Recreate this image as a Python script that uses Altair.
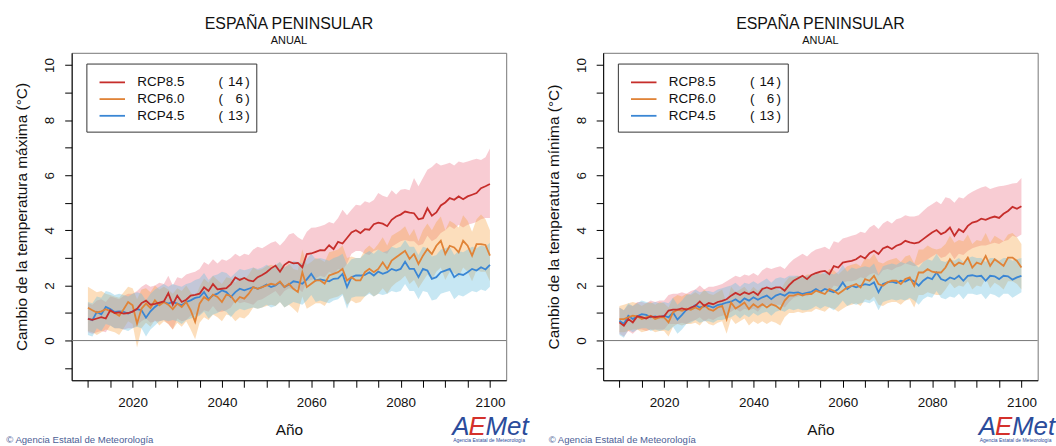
import altair as alt
import pandas as pd

YEARS = list(range(2010, 2101))
SCENARIOS = ["RCP8.5", "RCP6.0", "RCP4.5"]
N_MODELS = [14, 6, 13]
LINE_COLORS = ["#C62E2B", "#E08337", "#3A86D4"]
BAND_COLORS = ["#E8576E", "#F5A040", "#6CC0E0"]
BAND_OPACITY = [0.30, 0.35, 0.38]

# ---------------- Temperatura maxima (left panel) ----------------
TX_85_MEAN = [
    0.79, 0.75, 0.80, 0.85, 0.80, 1.10, 1.00, 1.02, 0.98, 1.00,
    1.05, 1.15, 1.36, 1.45, 1.30, 1.33, 1.38, 1.42, 1.72, 1.30,
    1.63, 1.40, 1.48, 1.63, 1.66, 1.70, 1.93, 1.80, 2.05, 1.86,
    1.88, 1.90, 2.05, 2.29, 2.20, 2.27, 2.18, 2.15, 2.30, 2.38,
    2.48, 2.62, 2.72, 2.50, 2.75, 2.86, 2.80, 2.82, 2.66, 3.14,
    3.16, 3.22, 3.28, 3.27, 3.46, 3.32, 3.58, 3.52, 3.72, 3.92,
    4.00, 3.90, 4.04, 4.02, 4.22, 4.28, 4.24, 4.15, 4.38, 4.50,
    4.57, 4.68, 4.64, 4.62, 4.40, 4.44, 4.80, 4.53, 4.65, 4.90,
    5.01, 5.17, 5.11, 5.23, 5.13, 5.23, 5.29, 5.35, 5.53, 5.60,
    5.68]
TX_85_HI = [
    1.35, 1.30, 1.45, 1.50, 1.40, 1.60, 1.55, 1.50, 1.62, 1.70,
    1.70, 1.80, 1.95, 2.05, 1.95, 2.00, 2.10, 2.05, 2.35, 2.00,
    2.30, 2.25, 2.40, 2.45, 2.50, 2.60, 2.85, 2.75, 2.95, 2.80,
    2.95, 2.90, 3.00, 3.15, 3.05, 3.15, 3.10, 3.30, 3.40, 3.35,
    3.45, 3.55, 3.60, 3.45, 3.62, 3.85, 3.90, 3.75, 3.65, 3.95,
    4.09, 4.10, 4.15, 4.20, 4.30, 4.25, 4.45, 4.75, 4.55, 4.75,
    4.93, 4.90, 5.05, 5.00, 5.10, 5.35, 5.25, 5.20, 5.45, 5.30,
    5.47, 5.50, 5.45, 5.90, 5.60, 5.90, 6.20, 6.30, 6.45, 6.35,
    6.40, 6.45, 6.35, 6.50, 6.45, 6.50, 6.55, 6.60, 6.55, 6.65,
    6.97]
TX_85_LO = [
    0.30, 0.25, 0.30, 0.35, 0.30, 0.55, 0.45, 0.45, 0.40, 0.45,
    0.45, 0.55, 0.70, 0.80, 0.65, 0.70, 0.70, 0.75, 0.60, 0.40,
    0.80, 0.70, 0.75, 0.90, 0.95, 0.95, 1.10, 1.05, 1.25, 1.05,
    1.05, 1.10, 1.20, 1.45, 1.35, 1.40, 1.35, 1.30, 1.45, 1.50,
    1.60, 1.70, 1.80, 1.60, 1.80, 1.90, 1.85, 1.90, 1.75, 2.15,
    2.20, 2.25, 2.35, 2.30, 2.50, 2.40, 2.60, 2.55, 2.80, 3.15,
    3.25, 3.25, 3.15, 3.10, 3.25, 3.30, 3.20, 3.15, 3.40, 3.50,
    3.60, 3.65, 3.60, 3.60, 3.45, 3.50, 3.80, 3.60, 3.70, 3.90,
    4.00, 4.15, 4.05, 4.20, 4.10, 4.20, 4.25, 4.30, 4.40, 4.45,
    4.45]
TX_60_MEAN = [
    1.19, 1.10, 1.02, 1.06, 1.14, 1.07, 1.00, 0.90, 1.14, 1.40,
    1.28, 0.62, 1.16, 1.34, 1.18, 1.46, 1.28, 1.40, 1.30, 1.14,
    1.34, 1.22, 1.40, 1.10, 0.68, 1.34, 1.58, 1.46, 1.67, 1.58,
    1.40, 1.67, 1.62, 1.40, 1.58, 1.52, 1.70, 1.94, 1.88, 1.94,
    2.00, 2.06, 2.02, 2.14, 1.94, 2.06, 1.88, 1.76, 2.48, 1.94,
    2.06, 2.18, 2.18, 2.06, 2.36, 2.42, 2.48, 2.60, 2.18, 2.30,
    2.18, 2.18, 2.48, 2.60, 2.48, 2.60, 2.84, 2.60, 2.90, 3.02,
    3.14, 3.26, 2.96, 3.14, 2.78, 3.08, 3.32, 3.14, 3.44, 3.62,
    3.14, 3.44, 3.38, 3.20, 3.62, 3.44, 3.08, 3.50, 3.50, 3.47,
    3.08]
TX_60_HI = [
    1.95, 1.85, 1.75, 1.80, 1.70, 1.65, 1.60, 1.55, 1.75, 1.95,
    1.90, 1.50, 1.85, 1.90, 1.75, 2.00, 1.85, 1.95, 1.85, 1.70,
    1.90, 1.80, 2.00, 1.75, 1.55, 1.95, 2.25, 2.10, 2.35, 2.20,
    2.05, 2.30, 2.25, 2.10, 2.30, 2.20, 2.40, 2.65, 2.55, 2.60,
    2.70, 2.75, 2.70, 2.85, 2.65, 2.80, 2.60, 2.55, 3.30, 2.75,
    2.85, 3.00, 2.95, 2.85, 3.20, 3.25, 3.30, 3.45, 3.00, 3.05,
    3.00, 3.00, 3.30, 3.45, 3.30, 3.50, 3.75, 3.45, 3.80, 3.90,
    4.00, 4.15, 3.80, 4.05, 3.60, 4.00, 4.25, 4.00, 4.30, 4.50,
    4.00, 4.35, 4.25, 4.10, 4.55, 4.35, 3.95, 4.40, 4.57, 4.40,
    4.00]
TX_60_LO = [
    0.35, 0.30, 0.20, 0.30, 0.40, 0.35, 0.30, 0.20, 0.45, 0.70,
    0.60, -0.25, 0.45, 0.65, 0.50, 0.75, 0.55, 0.70, 0.60, 0.40,
    0.65, 0.50, 0.70, 0.40, 0.05, 0.65, 0.85, 0.75, 0.95, 0.85,
    0.70, 0.95, 0.90, 0.70, 0.85, 0.80, 0.95, 1.20, 1.15, 1.20,
    1.25, 1.30, 1.25, 1.40, 1.20, 1.30, 1.15, 1.00, 1.60, 1.15,
    1.25, 1.35, 1.35, 1.25, 1.50, 1.55, 1.60, 1.70, 1.30, 1.45,
    1.35, 1.40, 1.60, 1.75, 1.60, 1.70, 1.90, 1.70, 1.95, 2.10,
    2.20, 2.35, 2.05, 2.20, 1.90, 2.15, 2.40, 2.20, 2.50, 2.65,
    2.20, 2.50, 2.45, 2.30, 2.65, 2.50, 2.15, 2.55, 2.50, 2.50,
    2.15]
TX_45_MEAN = [
    0.80, 0.74, 1.04, 0.95, 1.22, 1.14, 1.04, 1.06, 1.04, 0.98,
    1.06, 1.14, 1.10, 0.83, 1.06, 1.22, 1.34, 1.40, 1.34, 1.40,
    1.34, 1.28, 1.40, 1.46, 1.55, 1.58, 1.76, 1.50, 1.64, 1.70,
    1.82, 1.76, 1.58, 1.76, 1.88, 1.82, 1.88, 1.94, 1.88, 1.94,
    2.03, 1.94, 2.00, 2.12, 1.94, 2.03, 2.15, 2.12, 2.06, 2.22,
    2.42, 2.18, 2.22, 2.18, 2.15, 2.24, 2.26, 2.42, 1.94, 2.30,
    2.36, 2.36, 2.38, 2.48, 2.36, 2.50, 2.42, 2.48, 2.60, 2.54,
    2.60, 2.86, 2.60, 2.60, 2.30, 2.60, 2.54, 2.24, 2.30, 2.48,
    2.54, 2.60, 2.30, 2.42, 2.38, 2.48, 2.60, 2.54, 2.66, 2.58,
    2.75]
TX_45_HI = [
    1.40, 1.35, 1.60, 1.55, 1.80, 1.75, 1.65, 1.70, 1.65, 1.60,
    1.70, 1.75, 1.70, 1.45, 1.70, 1.85, 1.95, 2.05, 1.95, 2.05,
    2.00, 1.95, 2.05, 2.10, 2.20, 2.25, 2.45, 2.20, 2.35, 2.40,
    2.50, 2.45, 2.30, 2.45, 2.60, 2.55, 2.60, 2.65, 2.60, 2.65,
    2.75, 2.65, 2.75, 2.85, 2.65, 2.75, 2.90, 2.85, 2.80, 2.95,
    3.15, 2.95, 3.00, 2.95, 2.90, 3.00, 3.05, 3.15, 2.75, 2.95,
    3.00, 3.00, 3.15, 3.25, 3.15, 3.30, 3.20, 3.25, 3.40, 3.35,
    3.40, 3.65, 3.40, 3.40, 3.10, 3.40, 3.35, 3.05, 3.10, 3.30,
    3.35, 3.40, 3.10, 3.25, 3.20, 3.30, 3.40, 3.35, 3.45, 3.40,
    3.55]
TX_45_LO = [
    0.20, 0.15, 0.45, 0.35, 0.60, 0.55, 0.45, 0.45, 0.40, 0.35,
    0.45, 0.50, 0.45, 0.15, 0.40, 0.55, 0.70, 0.75, 0.70, 0.75,
    0.70, 0.60, 0.75, 0.80, 0.85, 0.90, 1.05, 0.80, 0.95, 1.00,
    1.10, 1.05, 0.85, 1.05, 1.15, 1.10, 1.15, 1.20, 1.15, 1.20,
    1.30, 1.20, 1.25, 1.40, 1.20, 1.30, 1.40, 1.35, 1.30, 1.45,
    1.65, 1.40, 1.45, 1.40, 1.35, 1.45, 1.50, 1.65, 1.15, 1.55,
    1.60, 1.60, 1.60, 1.70, 1.60, 1.70, 1.65, 1.70, 1.80, 1.75,
    1.80, 2.05, 1.80, 1.80, 1.50, 1.80, 1.75, 1.45, 1.50, 1.70,
    1.75, 1.80, 1.50, 1.65, 1.60, 1.70, 1.80, 1.75, 1.85, 1.80,
    1.95]

# ---------------- Temperatura minima (right panel) ----------------
TN_85_MEAN = [
    0.66, 0.54, 0.78, 0.66, 0.88, 0.85, 0.80, 0.88, 0.85, 0.88,
    0.88, 1.09, 1.12, 1.12, 1.17, 1.12, 1.20, 1.26, 1.42, 1.26,
    1.36, 1.32, 1.40, 1.44, 1.50, 1.63, 1.73, 1.65, 1.75, 1.69,
    1.77, 1.65, 1.87, 1.93, 1.87, 1.93, 1.93, 1.81, 2.01, 2.17,
    2.26, 2.35, 2.23, 2.38, 2.45, 2.50, 2.53, 2.41, 2.70, 2.65,
    2.83, 2.86, 2.89, 2.95, 3.07, 2.98, 3.17, 3.26, 3.14, 3.34,
    3.41, 3.32, 3.44, 3.50, 3.62, 3.56, 3.53, 3.56, 3.68, 3.80,
    3.92, 4.01, 3.86, 3.94, 4.10, 3.80, 4.04, 3.94, 4.16, 4.28,
    4.32, 4.42, 4.38, 4.45, 4.50, 4.45, 4.60, 4.70, 4.85, 4.78,
    4.87]
TN_85_HI = [
    1.20, 1.10, 1.30, 1.25, 1.40, 1.40, 1.35, 1.45, 1.40, 1.45,
    1.45, 1.65, 1.70, 1.70, 1.75, 1.70, 1.80, 1.85, 2.00, 1.85,
    1.95, 1.95, 2.00, 2.05, 2.15, 2.25, 2.35, 2.30, 2.40, 2.35,
    2.45, 2.35, 2.55, 2.65, 2.60, 2.65, 2.70, 2.60, 2.80, 2.95,
    3.05, 3.15, 3.05, 3.20, 3.30, 3.35, 3.40, 3.30, 3.60, 3.55,
    3.70, 3.75, 3.80, 3.85, 3.95, 3.90, 4.10, 4.20, 4.05, 4.25,
    4.35, 4.25, 4.40, 4.45, 4.55, 4.50, 4.50, 4.55, 4.70, 4.85,
    4.95, 5.05, 4.95, 5.20, 5.15, 5.00, 5.20, 5.15, 5.30, 5.40,
    5.48, 5.55, 5.60, 5.50, 5.55, 5.60, 5.62, 5.65, 5.70, 5.72,
    5.90]
TN_85_LO = [
    0.25, 0.15, 0.35, 0.25, 0.40, 0.40, 0.35, 0.40, 0.40, 0.40,
    0.40, 0.60, 0.60, 0.60, 0.65, 0.60, 0.70, 0.75, 0.85, 0.70,
    0.80, 0.75, 0.85, 0.90, 0.95, 1.05, 1.15, 1.05, 1.15, 1.10,
    1.15, 1.05, 1.25, 1.30, 1.25, 1.30, 1.30, 1.20, 1.40, 1.55,
    1.60, 1.70, 1.60, 1.70, 1.80, 1.85, 1.85, 1.75, 2.00, 1.95,
    2.10, 2.15, 2.15, 2.20, 2.30, 2.25, 2.40, 2.45, 2.35, 2.55,
    2.60, 2.55, 2.65, 2.70, 2.80, 2.75, 2.70, 2.75, 2.85, 2.95,
    3.05, 3.15, 3.00, 3.05, 3.20, 2.95, 3.15, 3.10, 3.25, 3.35,
    3.40, 3.45, 3.45, 3.50, 3.55, 3.50, 3.60, 3.65, 3.80, 3.75,
    3.85]
TN_60_MEAN = [
    0.78, 0.78, 0.84, 0.90, 0.88, 0.78, 0.84, 0.90, 0.78, 0.84,
    0.84, 0.66, 1.02, 1.12, 1.08, 1.16, 1.12, 1.20, 1.12, 1.29,
    1.14, 1.08, 1.20, 1.26, 0.78, 1.38, 1.16, 1.26, 1.38, 1.14,
    1.32, 1.20, 1.32, 1.20, 1.32, 1.26, 1.14, 1.45, 1.63, 1.63,
    1.69, 1.63, 1.69, 1.69, 1.81, 1.75, 1.69, 1.87, 1.81, 1.69,
    1.81, 1.93, 1.99, 2.05, 1.93, 2.23, 2.17, 2.35, 2.05, 1.99,
    2.11, 2.17, 2.17, 2.05, 2.23, 2.29, 1.99, 2.47, 2.47, 2.59,
    2.50, 2.47, 2.47, 2.65, 2.95, 2.71, 2.83, 2.77, 3.01, 2.65,
    2.83, 2.77, 3.07, 2.71, 2.95, 2.83, 2.71, 3.01, 3.01, 2.89,
    2.65]
TN_60_HI = [
    1.25, 1.30, 1.35, 1.40, 1.35, 1.25, 1.35, 1.40, 1.30, 1.40,
    1.35, 1.20, 1.55, 1.65, 1.60, 1.70, 1.65, 1.75, 1.65, 1.85,
    1.70, 1.65, 1.75, 1.85, 1.35, 1.95, 1.75, 1.85, 1.95, 1.75,
    1.95, 1.80, 1.95, 1.85, 1.95, 1.90, 1.80, 2.10, 2.30, 2.30,
    2.35, 2.30, 2.40, 2.40, 2.50, 2.45, 2.40, 2.60, 2.55, 2.40,
    2.55, 2.70, 2.75, 2.80, 2.70, 3.00, 2.95, 3.15, 2.85, 2.80,
    2.90, 2.95, 3.00, 2.85, 3.05, 3.10, 2.80, 3.30, 3.30, 3.45,
    3.35, 3.30, 3.35, 3.50, 3.80, 3.55, 3.65, 3.60, 3.85, 3.50,
    3.65, 3.60, 3.90, 3.55, 3.80, 3.70, 3.60, 3.85, 3.90, 3.75,
    3.50]
TN_60_LO = [
    0.30, 0.30, 0.35, 0.40, 0.40, 0.30, 0.35, 0.40, 0.30, 0.35,
    0.35, 0.15, 0.50, 0.60, 0.55, 0.60, 0.60, 0.65, 0.55, 0.75,
    0.60, 0.55, 0.65, 0.70, 0.25, 0.80, 0.60, 0.70, 0.80, 0.55,
    0.70, 0.60, 0.70, 0.60, 0.70, 0.65, 0.55, 0.85, 1.00, 1.00,
    1.05, 1.00, 1.05, 1.05, 1.15, 1.10, 1.05, 1.20, 1.15, 1.05,
    1.15, 1.25, 1.30, 1.35, 1.25, 1.50, 1.45, 1.60, 1.30, 1.25,
    1.35, 1.40, 1.40, 1.30, 1.45, 1.50, 1.20, 1.65, 1.65, 1.75,
    1.70, 1.65, 1.65, 1.85, 2.10, 1.90, 2.00, 1.95, 2.15, 1.85,
    2.00, 1.95, 2.25, 1.90, 2.10, 2.00, 1.85, 2.15, 2.15, 2.05,
    1.85]
TN_45_MEAN = [
    0.72, 0.60, 0.90, 0.78, 0.88, 0.96, 0.93, 0.84, 0.88, 0.84,
    0.90, 0.84, 1.02, 0.76, 0.93, 1.12, 1.16, 1.29, 1.20, 1.24,
    1.26, 1.20, 1.29, 1.32, 1.38, 1.41, 1.50, 1.38, 1.53, 1.45,
    1.57, 1.48, 1.57, 1.63, 1.50, 1.63, 1.69, 1.63, 1.75, 1.73,
    1.75, 1.69, 1.73, 1.77, 1.87, 1.77, 1.87, 1.81, 1.75, 1.87,
    2.11, 1.87, 1.99, 1.93, 1.99, 2.05, 2.01, 2.11, 1.75, 2.05,
    2.11, 2.14, 2.09, 2.17, 2.14, 2.23, 2.14, 1.99, 2.17, 2.29,
    2.23, 2.47, 2.23, 2.17, 2.29, 2.23, 2.35, 2.17, 2.35, 2.37,
    2.33, 2.35, 2.17, 2.35, 2.33, 2.23, 2.35, 2.33, 2.21, 2.29,
    2.35]
TN_45_HI = [
    1.20, 1.10, 1.35, 1.25, 1.35, 1.45, 1.40, 1.35, 1.40, 1.35,
    1.40, 1.35, 1.55, 1.30, 1.45, 1.65, 1.70, 1.85, 1.75, 1.80,
    1.80, 1.75, 1.85, 1.90, 1.95, 2.00, 2.10, 1.95, 2.10, 2.05,
    2.15, 2.05, 2.15, 2.25, 2.10, 2.25, 2.30, 2.25, 2.35, 2.35,
    2.35, 2.30, 2.35, 2.40, 2.50, 2.40, 2.50, 2.45, 2.40, 2.50,
    2.75, 2.50, 2.65, 2.60, 2.65, 2.70, 2.65, 2.80, 2.40, 2.70,
    2.75, 2.80, 2.75, 2.85, 2.80, 2.90, 2.80, 2.65, 2.85, 2.95,
    2.90, 3.15, 2.90, 2.85, 2.95, 2.90, 3.00, 2.85, 3.00, 3.05,
    3.00, 3.00, 2.85, 3.00, 3.00, 2.90, 3.00, 3.00, 2.90, 2.95,
    3.00]
TN_45_LO = [
    0.20, 0.10, 0.40, 0.30, 0.40, 0.45, 0.45, 0.35, 0.40, 0.35,
    0.40, 0.35, 0.50, 0.25, 0.40, 0.60, 0.65, 0.75, 0.65, 0.70,
    0.70, 0.65, 0.75, 0.75, 0.80, 0.85, 0.95, 0.80, 0.95, 0.85,
    1.00, 0.90, 1.00, 1.05, 0.90, 1.05, 1.10, 1.05, 1.15, 1.10,
    1.15, 1.10, 1.10, 1.15, 1.25, 1.15, 1.25, 1.20, 1.10, 1.25,
    1.45, 1.25, 1.35, 1.30, 1.35, 1.40, 1.35, 1.45, 1.10, 1.40,
    1.45, 1.50, 1.45, 1.50, 1.45, 1.55, 1.45, 1.30, 1.50, 1.60,
    1.55, 1.80, 1.55, 1.50, 1.60, 1.55, 1.70, 1.50, 1.70, 1.70,
    1.65, 1.70, 1.50, 1.70, 1.65, 1.55, 1.70, 1.70, 1.55, 1.65,
    1.75]

TITLE = "ESPAÑA PENINSULAR"
SUBTITLE = "ANUAL"
X_TITLE = "Año"
Y_TITLES = ["Cambio de la temperatura máxima (°C)",
            "Cambio de la temperatura mínima (°C)"]
COPYRIGHT = "© Agencia Estatal de Meteorología"
LOGO_SMALL = "Agencia Estatal de Meteorología"
X_TICKS = list(range(2010, 2101, 5))
Y_TICKS = list(range(-1, 11))
X_DOMAIN = [2006.36, 2103.64]
Y_DOMAIN = [-1.44, 10.44]

FONT = "Liberation Sans"
W, H = 436.6, 329


def panel(series, ytitle, ytitle_x, copy_x, logo_x):
    frames = []
    for name, (mean, lo, hi) in zip(SCENARIOS, series):
        frames.append(pd.DataFrame({"year": YEARS, "scenario": name,
                                    "mean": mean, "lo": lo, "hi": hi}))
    df = pd.concat(frames, ignore_index=True)

    xaxis = alt.Axis(values=X_TICKS, format="d",
                     labelExpr="datum.value % 20 == 0 ? datum.label : ''",
                     title=X_TITLE, grid=False, domain=True,
                     domainColor="#000", domainWidth=1,
                     tickSize=7, tickColor="#000", tickWidth=1,
                     labelFont=FONT, labelFontSize=13.5, labelColor="#111",
                     labelBaseline="alphabetic", labelPadding=19.4,
                     labelFlush=False, labelOverlap=False,
                     titleFont=FONT, titleFontSize=15.5, titleFontWeight="normal",
                     titleColor="#111", titleBaseline="alphabetic",
                     titleAlign="center", titleX=W / 2, titleY=55)
    yaxis = alt.Axis(values=Y_TICKS,
                     labelExpr="datum.value % 2 == 0 ? datum.label : ''",
                     title=ytitle, grid=False, domain=True,
                     domainColor="#000", domainWidth=1,
                     tickSize=7, tickColor="#000", tickWidth=1,
                     labelFont=FONT, labelFontSize=13.5, labelColor="#111",
                     labelAngle=270, labelAlign="center",
                     labelBaseline="alphabetic", labelPadding=11,
                     labelFlush=False, labelOverlap=False,
                     titleFont=FONT, titleFontSize=15.5, titleFontWeight="normal",
                     titleColor="#111", titleAngle=270, titleAlign="center",
                     titleBaseline="alphabetic", titleX=ytitle_x, titleY=H / 2)
    xs = alt.Scale(domain=X_DOMAIN, nice=False, zero=False)
    ys = alt.Scale(domain=Y_DOMAIN, nice=False, zero=False)

    def X():
        return alt.X("year:Q", scale=xs, axis=xaxis)

    def Y(f):
        return alt.Y(f + ":Q", scale=ys, axis=yaxis)

    layers = []
    for name, col, op in zip(SCENARIOS, BAND_COLORS, BAND_OPACITY):
        layers.append(
            alt.Chart(df).transform_filter(alt.datum.scenario == name)
            .mark_area(color=col, opacity=op, interpolate="linear")
            .encode(x=X(), y=Y("lo"), y2="hi:Q"))
    layers.append(
        alt.Chart(pd.DataFrame({"z": [0]})).mark_rule(color="#777", strokeWidth=1)
        .encode(y=alt.Y("z:Q", scale=ys, axis=yaxis)))
    for name, col in list(zip(SCENARIOS, LINE_COLORS))[::-1]:
        layers.append(
            alt.Chart(df).transform_filter(alt.datum.scenario == name)
            .mark_line(color=col, strokeWidth=1.8)
            .encode(x=X(), y=Y("mean")))

    one = pd.DataFrame({"k": [0]})
    # legend box
    layers.append(
        alt.Chart(one).mark_rect(fill="white", stroke="#333", strokeWidth=1)
        .encode(x=alt.value(15.3), x2=alt.value(186), y=alt.value(11.3), y2=alt.value(79.7)))
    for i, (name, n, col) in enumerate(zip(SCENARIOS, N_MODELS, LINE_COLORS)):
        yy = 29.7 + 16.8 * i
        layers.append(alt.Chart(one).mark_rule(color=col, strokeWidth=1.8)
                      .encode(x=alt.value(28), x2=alt.value(53.6), y=alt.value(yy)))
        layers.append(alt.Chart(one).mark_text(text=name, align="left", baseline="middle",
                                               font=FONT, fontSize=13.5, color="#111")
                      .encode(x=alt.value(66), y=alt.value(yy)))
        layers.append(alt.Chart(one).mark_text(text="(", align="left", baseline="middle",
                                               font=FONT, fontSize=13.5, color="#111")
                      .encode(x=alt.value(147.6), y=alt.value(yy)))
        layers.append(alt.Chart(one).mark_text(text=str(n), align="right", baseline="middle",
                                               font=FONT, fontSize=13.5, color="#111")
                      .encode(x=alt.value(172), y=alt.value(yy)))
        layers.append(alt.Chart(one).mark_text(text=")", align="left", baseline="middle",
                                               font=FONT, fontSize=13.5, color="#111")
                      .encode(x=alt.value(174.3), y=alt.value(yy)))
    # footer texts
    layers.append(alt.Chart(one).mark_text(text=COPYRIGHT, align="left", baseline="alphabetic",
                                           font=FONT, fontSize=9.6, color="#4C5E96")
                  .encode(x=alt.value(copy_x), y=alt.value(392)))
    lx, ly = logo_x, 384
    layers.append(alt.Chart(one).mark_text(text="A", align="left", baseline="alphabetic",
                                           font=FONT, fontSize=26, fontStyle="italic",
                                           color="#2B4C9B")
                  .encode(x=alt.value(lx), y=alt.value(ly)))
    layers.append(alt.Chart(one).mark_text(text="E", align="left", baseline="alphabetic",
                                           font=FONT, fontSize=26, fontStyle="italic",
                                           color="#D4312B")
                  .encode(x=alt.value(lx + 16.5), y=alt.value(ly)))
    layers.append(alt.Chart(one).mark_text(text="Met", align="left", baseline="alphabetic",
                                           font=FONT, fontSize=26, fontStyle="italic",
                                           color="#2B4C9B")
                  .encode(x=alt.value(lx + 33.5), y=alt.value(ly)))
    layers.append(alt.Chart(one).mark_text(text=LOGO_SMALL, align="left", baseline="alphabetic",
                                           font=FONT, fontSize=5, color="#2B4C9B")
                  .encode(x=alt.value(lx + 1), y=alt.value(ly + 7)))

    return alt.layer(*layers).properties(
        width=W, height=H,
        title=alt.TitleParams(TITLE, subtitle=SUBTITLE, font=FONT, fontSize=16,
                              fontWeight="normal", color="#111", subtitleFont=FONT,
                              subtitleFontSize=11, subtitleColor="#111",
                              anchor="middle", offset=7, subtitlePadding=3))


tx = [(TX_85_MEAN, TX_85_LO, TX_85_HI), (TX_60_MEAN, TX_60_LO, TX_60_HI),
      (TX_45_MEAN, TX_45_LO, TX_45_HI)]
tn = [(TN_85_MEAN, TN_85_LO, TN_85_HI), (TN_60_MEAN, TN_60_LO, TN_60_HI),
      (TN_45_MEAN, TN_45_LO, TN_45_HI)]

left = panel(tx, Y_TITLES[0], -45.7, -65.7, 382.3)
right = panel(tn, Y_TITLES[1], -44.7, -54.7, 377.3)

chart = alt.hconcat(left, right, spacing=16).properties(
    padding={"left": 5, "top": 14, "right": 0, "bottom": 0}
).configure_view(stroke="#777", strokeWidth=1)

chart.save("out.html", embed_options={"renderer": "svg", "actions": False})
